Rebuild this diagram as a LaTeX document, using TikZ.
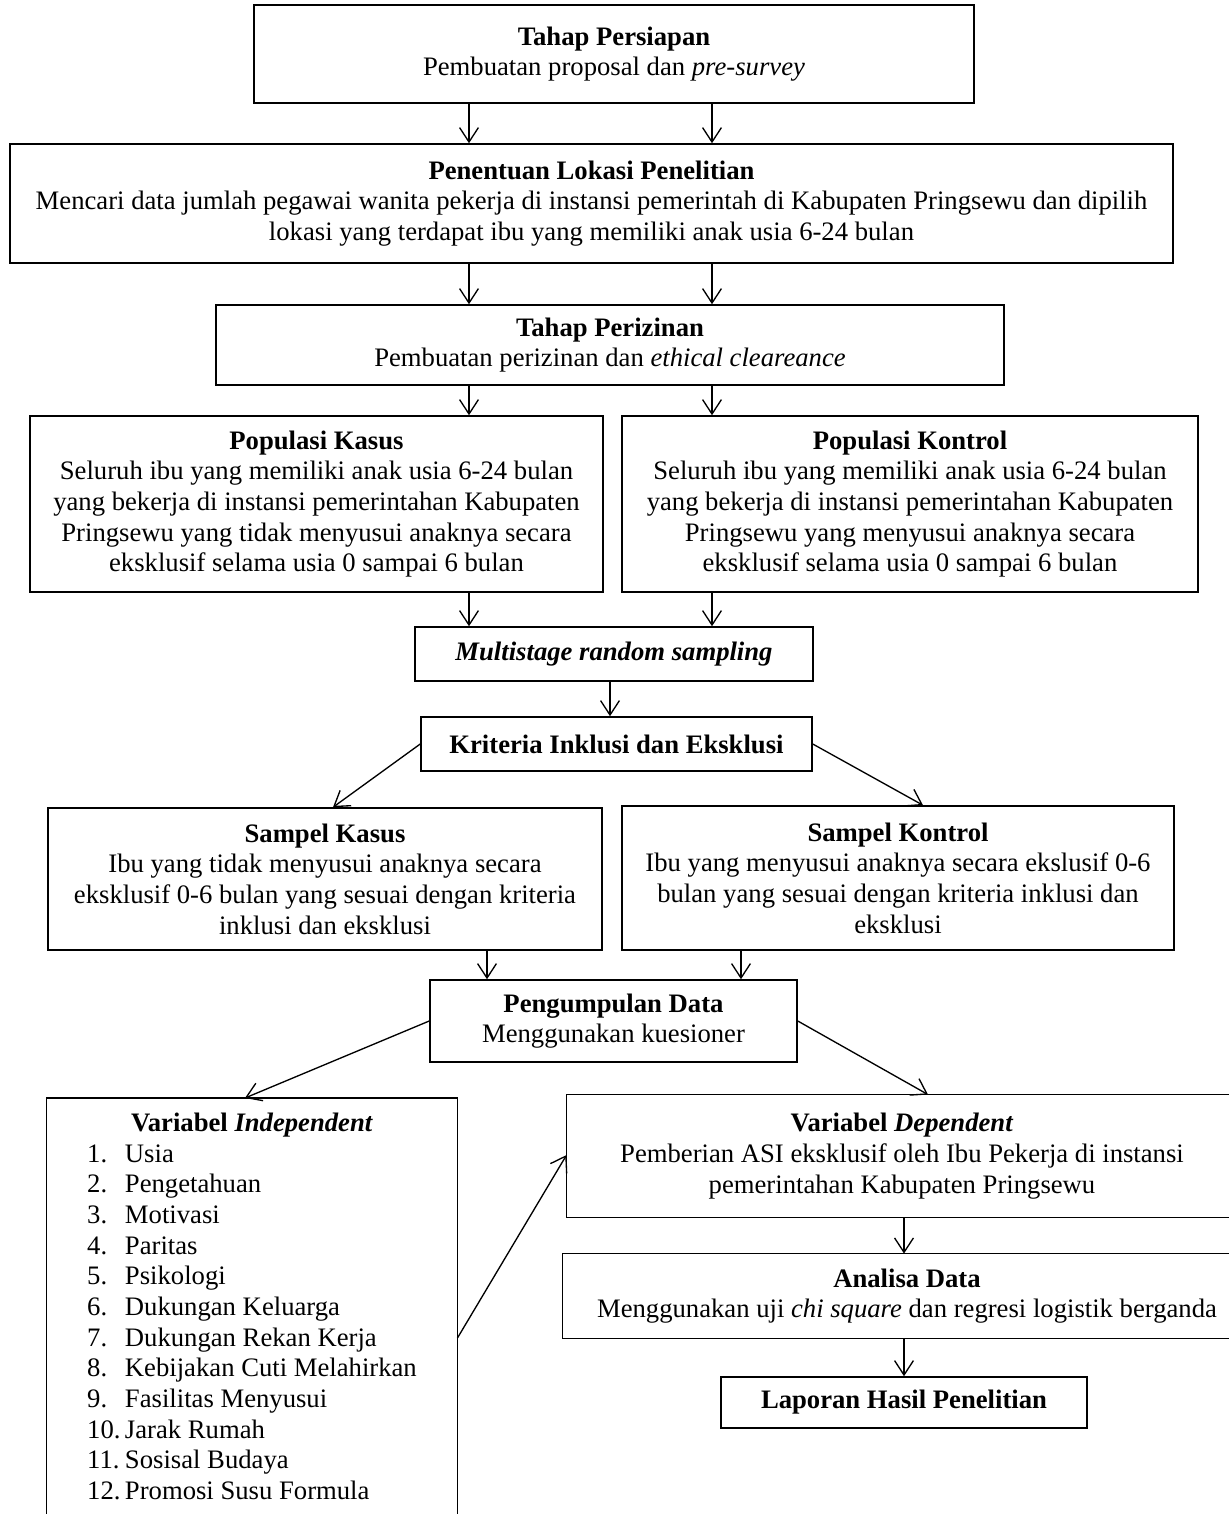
\documentclass[tikz,border=0pt]{standalone}
\usepackage{fontspec}
\setmainfont{Liberation Serif}
\usetikzlibrary{arrows.meta}
\begin{document}
\fontsize{12pt}{13.8pt}\selectfont
\begin{tikzpicture}[x=0.45pt,y=-0.45pt,
  every node/.style={font=\fontsize{12pt}{13.8pt}\selectfont},
  box/.style={draw, line width=0.7pt, align=center, inner sep=0pt},
  openbox/.style={align=center, inner sep=0pt},
  arr/.style={line width=0.6pt, -{Straight Barb[length=6.5pt,width=8.5pt]}},
  edge/.style={line width=0.7pt}]
\useasboundingbox (0,0) rectangle (1229,1514);
\clip (0,0) rectangle (1229,1514);

\node[box, minimum width=324pt, minimum height=44.1pt] (persiapan) at (614,54)
  {\textbf{Tahap Persiapan}\\Pembuatan proposal dan \textit{pre-survey}};
\node[box, minimum width=523.35pt, minimum height=53.55pt] (lokasi) at (591.5,203.5)
  {\textbf{Penentuan Lokasi Penelitian}\\Mencari data jumlah pegawai wanita pekerja di instansi pemerintah di Kabupaten Pringsewu dan dipilih\\lokasi yang terdapat ibu yang memiliki anak usia 6-24 bulan};
\node[box, minimum width=354.6pt, minimum height=36pt] (perizinan) at (610,345)
  {\textbf{Tahap Perizinan}\\Pembuatan perizinan dan \textit{ethical cleareance}};
\node[box, minimum width=257.85pt, minimum height=79.2pt] (popkasus) at (316.5,504)
  {\textbf{Populasi Kasus}\\Seluruh ibu yang memiliki anak usia 6-24 bulan\\yang bekerja di instansi pemerintahan Kabupaten\\Pringsewu yang tidak menyusui anaknya secara\\eksklusif selama usia 0 sampai 6 bulan};
\node[box, minimum width=259.2pt, minimum height=79.2pt] (popkontrol) at (910,504)
  {\textbf{Populasi Kontrol}\\Seluruh ibu yang memiliki anak usia 6-24 bulan\\yang bekerja di instansi pemerintahan Kabupaten\\Pringsewu yang menyusui anaknya secara\\eksklusif selama usia 0 sampai 6 bulan};
\node[box, minimum width=179.1pt, minimum height=24.3pt] (multi) at (614,654)
  {\textbf{\textit{Multistage random sampling}}};
\node[box, minimum width=175.95pt, minimum height=24.3pt] (kriteria) at (616.5,744)
  {\textbf{Kriteria Inklusi dan Eksklusi}};
\node[box, minimum width=249.3pt, minimum height=63.9pt] (sampkasus) at (325,879)
  {\textbf{Sampel Kasus}\\Ibu yang tidak menyusui anaknya secara\\eksklusif 0-6 bulan yang sesuai dengan kriteria\\inklusi dan eksklusi};
\node[box, minimum width=248.4pt, minimum height=64.8pt] (sampkontrol) at (898,878)
  {\textbf{Sampel Kontrol}\\Ibu yang menyusui anaknya secara ekslusif 0-6\\bulan yang sesuai dengan kriteria inklusi dan\\eksklusi};
\node[box, minimum width=165.15pt, minimum height=36.9pt] (kumpul) at (613.5,1021)
  {\textbf{Pengumpulan Data}\\Menggunakan kuesioner};

% Independent box (open at the bottom of the page)
\node[openbox, anchor=north, minimum width=184.5pt, inner ysep=6.5pt] (indep) at (252,1098)
  {\textbf{Variabel \textit{Independent}}\\
   \begin{tabular}[t]{@{}p{17pt}@{}l@{}}
   1. & Usia\\
   2. & Pengetahuan\\
   3. & Motivasi\\
   4. & Paritas\\
   5. & Psikologi\\
   6. & Dukungan Keluarga\\
   7. & Dukungan Rekan Kerja\\
   8. & Kebijakan Cuti Melahirkan\\
   9. & Fasilitas Menyusui\\
   10. & Jarak Rumah\\
   11. & Sosisal Budaya\\
   12. & Promosi Susu Formula
   \end{tabular}};
\draw[edge] (indep.north west |- 0,1560) -- (indep.north west) -- (indep.north east) -- (indep.north east |- 0,1560);

% Dependent box (open at the right edge of the page)
\node[openbox, minimum width=301.5pt, minimum height=54.9pt] (dep) at (902,1156)
  {\textbf{Variabel \textit{Dependent}}\\Pemberian ASI eksklusif oleh Ibu Pekerja di instansi\\pemerintahan Kabupaten Pringsewu};
\draw[edge] (dep.north east) -- (dep.north west) -- (dep.south west) -- (dep.south east);

% Analisa box (open at the right edge of the page)
\node[openbox, minimum width=309.6pt, minimum height=37.8pt] (analisa) at (907,1296)
  {\textbf{Analisa Data}\\Menggunakan uji \textit{chi square} dan regresi logistik berganda};
\draw[edge] (analisa.north east) -- (analisa.north west) -- (analisa.south west) -- (analisa.south east);

\node[box, minimum width=164.7pt, minimum height=22.95pt] (laporan) at (904,1402.5)
  {\textbf{Laporan Hasil Penelitian}};

% Connectors
\draw[arr] (persiapan.south -| 469,0) -- (lokasi.north -| 469,0);
\draw[arr] (persiapan.south -| 712,0) -- (lokasi.north -| 712,0);
\draw[arr] (lokasi.south -| 469,0) -- (perizinan.north -| 469,0);
\draw[arr] (lokasi.south -| 712,0) -- (perizinan.north -| 712,0);
\draw[arr] (perizinan.south -| 469,0) -- (popkasus.north -| 469,0);
\draw[arr] (perizinan.south -| 712,0) -- (popkontrol.north -| 712,0);
\draw[arr] (popkasus.south -| 469,0) -- (multi.north -| 469,0);
\draw[arr] (popkontrol.south -| 712,0) -- (multi.north -| 712,0);
\draw[arr] (multi.south -| 610,0) -- (kriteria.north -| 610,0);
\draw[arr] (kriteria.west) -- (sampkasus.north -| 333,0);
\draw[arr] (kriteria.east) -- (sampkontrol.north -| 923,0);
\draw[arr] (sampkasus.south -| 487,0) -- (kumpul.north -| 487,0);
\draw[arr] (sampkontrol.south -| 741,0) -- (kumpul.north -| 741,0);
\draw[arr] (kumpul.west) -- (indep.north -| 245,0);
\draw[arr] (kumpul.east) -- (dep.north -| 928,0);
\draw[arr] (indep.east |- 0,1338) -- (dep.west |- 0,1155);
\draw[arr] (dep.south -| 904,0) -- (analisa.north -| 904,0);
\draw[arr] (analisa.south -| 904,0) -- (laporan.north -| 904,0);
\end{tikzpicture}
\end{document}
